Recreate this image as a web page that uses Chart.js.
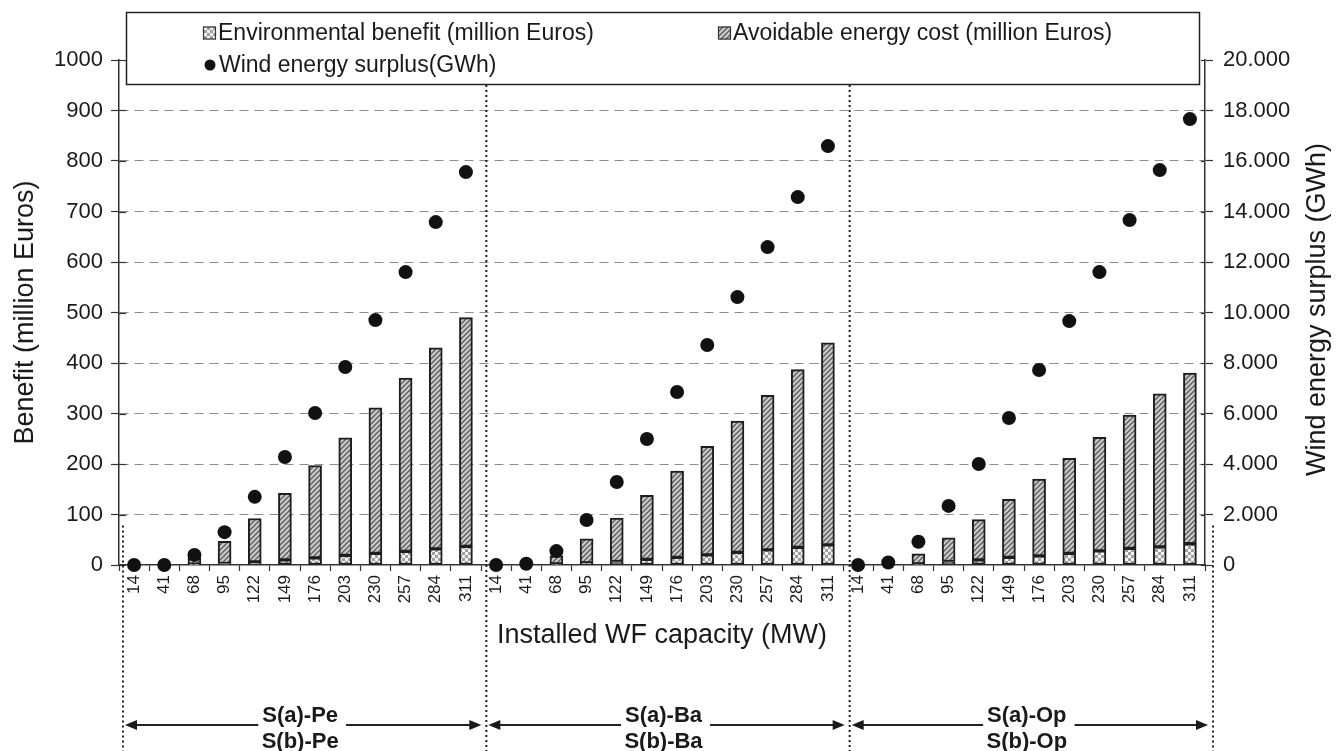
<!DOCTYPE html>
<html>
<head>
<meta charset="utf-8">
<title>Benefit vs installed WF capacity</title>
<script src="https://cdn.jsdelivr.net/npm/chart.js@4.4.1/dist/chart.umd.min.js"></script>
<style>
    html, body { margin: 0; padding: 0; background: #fff; }
    #wrap { width: 1337px; height: 751px; }
</style>
</head>
<body>
<div id="wrap"><canvas id="chart" width="1337" height="751"></canvas></div>
<script>
// Installed WF capacity (MW), repeated for each scenario
const capacities = [14, 41, 68, 95, 122, 149, 176, 203, 230, 257, 284, 311];
const scenarios = ["Pe", "Ba", "Op"];

// Environmental benefit (million Euros), Pe / Ba / Op
const envBenefit = [
    0, 0, 1.5, 3, 6, 10, 14, 19, 23, 27, 32, 37,
    0, 0, 2, 4, 7, 11, 15, 20, 25, 30, 35, 40,
    0, 0, 2, 7, 10, 15, 18, 23, 28, 33, 36, 42
];

// Avoidable energy cost (million Euros), Pe / Ba / Op
const avoidableCost = [
    0, 0, 12.5, 44, 86, 132, 183, 233, 288, 343, 398, 453,
    0, 0, 16, 48, 86, 127, 171, 215, 260, 306, 352, 400,
    0, 0, 20, 47, 80, 115, 152, 188, 225, 264, 303, 338
];

// Wind energy surplus (GWh), Pe / Ba / Op
const windSurplus = [
    0, 0, 400, 1300, 2700, 4280, 6020, 7840, 9700, 11600, 13580, 15560,
    0, 50, 550, 1780, 3290, 4990, 6850, 8710, 10610, 12590, 14570, 16590,
    0, 100, 920, 2340, 4000, 5820, 7720, 9660, 11600, 13660, 15640, 17660
];

const labels = scenarios.flatMap(() => capacities.map(String));

const FONT = '"Liberation Sans", Arial, Helvetica, sans-serif';
Chart.defaults.font.family = FONT;
Chart.defaults.color = "#1a1a1a";

const ctx = document.getElementById("chart").getContext("2d");

// Fill patterns for the bars
function makeHatch() {
    const c = document.createElement("canvas");
    c.width = 5; c.height = 5;
    const g = c.getContext("2d");
    g.fillStyle = "#cbcbcb";
    g.fillRect(0, 0, 5, 5);
    g.strokeStyle = "#5a5a5a";
    g.lineWidth = 1.3;
    g.beginPath();
    g.moveTo(0, 5); g.lineTo(5, 0);
    g.moveTo(-1, 1); g.lineTo(1, -1);
    g.moveTo(4, 6); g.lineTo(6, 4);
    g.stroke();
    return ctx.createPattern(c, "repeat");
}

function makeChecker() {
    const c = document.createElement("canvas");
    c.width = 6; c.height = 6;
    const g = c.getContext("2d");
    g.fillStyle = "#f4f4f4";
    g.fillRect(0, 0, 6, 6);
    g.fillStyle = "#a0a0a0";
    g.fillRect(0, 0, 3, 3);
    g.fillRect(3, 3, 3, 3);
    return ctx.createPattern(c, "repeat");
}

const hatch = makeHatch();
const checker = makeChecker();

function line(c, x1, y1, x2, y2) {
    c.beginPath();
    c.moveTo(x1, y1);
    c.lineTo(x2, y2);
    c.stroke();
}

function arrowHead(c, x, y, dir) {
    // dir = -1 points left, 1 points right
    c.beginPath();
    c.moveTo(x, y);
    c.lineTo(x - dir * 12, y - 5);
    c.lineTo(x - dir * 12, y + 5);
    c.closePath();
    c.fill();
}

const decorations = {
    id: "decorations",
    afterDraw(chart) {
        const c = chart.ctx;
        const area = chart.chartArea;
        const yScale = chart.scales.y;
        const y2Scale = chart.scales.y2;
        const H = chart.height;

        c.save();

        // tick marks crossing into the plot
        c.strokeStyle = "#333";
        c.lineWidth = 1.2;
        yScale.ticks.forEach((t) => {
            const p = Math.round(yScale.getPixelForValue(t.value)) + 0.5;
            line(c, area.left, p, area.left + 7, p);
        });
        y2Scale.ticks.forEach((t) => {
            const p = Math.round(y2Scale.getPixelForValue(t.value)) + 0.5;
            line(c, area.right - 4, p, area.right, p);
        });

        // dotted scenario dividers
        const d0 = area.left + 4;
        const d3 = area.right + 8;
        const dividers = [0, 1, 2, 3].map((i) => d0 + (d3 - d0) * i / 3);
        c.strokeStyle = "#222";
        c.lineWidth = 2;
        c.setLineDash([2, 3]);
        dividers.forEach((x, i) => {
            const top = (i === 0 || i === 3) ? yScale.getPixelForValue(78) : area.top;
            line(c, x, top, x, H);
        });
        c.setLineDash([]);

        // scenario arrows and names
        c.font = "bold 22px " + FONT;
        c.textAlign = "center";
        c.textBaseline = "middle";
        c.fillStyle = "#1a1a1a";
        c.lineWidth = 2;
        const yArrow = H - 26;
        scenarios.forEach((s, i) => {
            const xa = dividers[i] + 2;
            const xb = dividers[i + 1] - 5;
            const xc = (xa + xb) / 2 - 3;
            const la = "S(a)-" + s;
            const lb = "S(b)-" + s;
            const w = c.measureText(la).width;
            line(c, xa + 6, yArrow, xc - w / 2 - 4, yArrow);
            line(c, xc + w / 2 + 8, yArrow, xb - 6, yArrow);
            arrowHead(c, xa, yArrow, -1);
            arrowHead(c, xb, yArrow, 1);
            c.fillText(la, xc, H - 35);
            c.fillText(lb, xc, H - 9);
        });

        // right axis title, reading upwards like the left one
        c.save();
        c.font = "27px " + FONT;
        c.translate(chart.width - 19, (area.top + area.bottom) / 2 - 3);
        c.rotate(-Math.PI / 2);
        c.fillText("Wind energy surplus (GWh)", 0, 0);
        c.restore();

        // legend box
        const ds = chart.data.datasets;
        const lx = area.left + 7;
        const lw = area.right - 6 - lx;
        c.fillStyle = "#fff";
        c.fillRect(lx, 12, lw, 72);
        c.strokeStyle = "#222";
        c.lineWidth = 1.5;
        c.strokeRect(lx + 0.5, 12.5, lw, 72);

        c.font = "23px " + FONT;
        c.textAlign = "left";
        c.textBaseline = "middle";
        const row1 = 33;
        const row2 = 65;
        const items = [
            { ds: ds[1], x: 203, y: row1 },
            { ds: ds[2], x: 718, y: row1 }
        ];
        c.lineWidth = 1.2;
        items.forEach((it) => {
            c.fillStyle = it.ds.backgroundColor;
            c.fillRect(it.x, it.y - 6.5, 13, 13);
            c.strokeStyle = "#333";
            c.strokeRect(it.x + 0.5, it.y - 6, 12, 12);
            c.fillStyle = "#1a1a1a";
            c.fillText(it.ds.label, it.x + 15, it.y + 1);
        });
        c.fillStyle = "#111";
        c.beginPath();
        c.arc(210, row2, 5.5, 0, Math.PI * 2);
        c.fill();
        c.fillStyle = "#1a1a1a";
        c.fillText(ds[0].label, 219, row2 + 1);

        c.restore();
    }
};

new Chart(ctx, {
    data: {
        labels: labels,
        datasets: [
            {
                type: "line",
                label: "Wind energy surplus(GWh)",
                data: windSurplus,
                yAxisID: "y2",
                showLine: false,
                pointRadius: 7,
                pointBackgroundColor: "#111",
                pointBorderColor: "#111",
                pointBorderWidth: 0,
                order: 0,
                clip: false
            },
            {
                type: "bar",
                label: "Environmental benefit (million Euros)",
                data: envBenefit,
                yAxisID: "y",
                backgroundColor: checker,
                borderColor: "#1e1e1e",
                borderWidth: 2,
                borderSkipped: false,
                barThickness: 13,
                order: 1
            },
            {
                type: "bar",
                label: "Avoidable energy cost (million Euros)",
                data: avoidableCost,
                yAxisID: "y",
                backgroundColor: hatch,
                borderColor: "#1e1e1e",
                borderWidth: 2,
                borderSkipped: false,
                barThickness: 13,
                order: 2
            }
        ]
    },
    options: {
        responsive: false,
        animation: false,
        layout: { padding: { top: 60, left: 0, right: 0, bottom: 0 } },
        plugins: {
            legend: { display: false },
            tooltip: { enabled: false }
        },
        scales: {
            x: {
                type: "category",
                stacked: true,
                offset: true,
                grid: {
                    offset: true,
                    drawOnChartArea: false,
                    tickLength: 6,
                    tickColor: "#333",
                    tickWidth: 1.2
                },
                border: { color: "#333", width: 1.5 },
                ticks: {
                    autoSkip: false,
                    maxRotation: 90,
                    minRotation: 90,
                    padding: 4,
                    font: { size: 17 }
                },
                title: {
                    display: true,
                    text: "Installed WF capacity (MW)",
                    font: { size: 27 },
                    padding: { top: 4, bottom: 99 }
                },
                afterFit(scale) { scale.height = 186; }
            },
            y: {
                position: "left",
                stacked: true,
                min: 0,
                max: 1000,
                ticks: {
                    stepSize: 100,
                    padding: 8,
                    font: { size: 22 },
                    callback: (v) => String(v)
                },
                grid: {
                    color: (c) => (c.tick && (c.tick.value === 0 || c.tick.value === 1000)) ? "rgba(0,0,0,0)" : "#8c8c8c",
                    lineWidth: 1,
                    tickColor: "#333",
                    tickLength: 8,
                    tickWidth: 1.2
                },
                border: { color: "#333", width: 1.5, dash: [9, 6] },
                title: {
                    display: true,
                    text: "Benefit (million Euros)",
                    font: { size: 27 },
                    padding: { top: 9, bottom: 0 }
                },
                afterFit(scale) { scale.width = 119; }
            },
            y2: {
                position: "right",
                min: 0,
                max: 20000,
                ticks: {
                    stepSize: 2000,
                    padding: 10,
                    font: { size: 22 },
                    callback: (v) => v === 0 ? "0" : (v / 1000).toFixed(3)
                },
                grid: {
                    drawOnChartArea: false,
                    tickColor: "#333",
                    tickLength: 8,
                    tickWidth: 1.2
                },
                border: { color: "#333", width: 1.5 },
                afterFit(scale) { scale.width = 132; }
            }
        }
    },
    plugins: [decorations]
});
</script>
</body>
</html>
